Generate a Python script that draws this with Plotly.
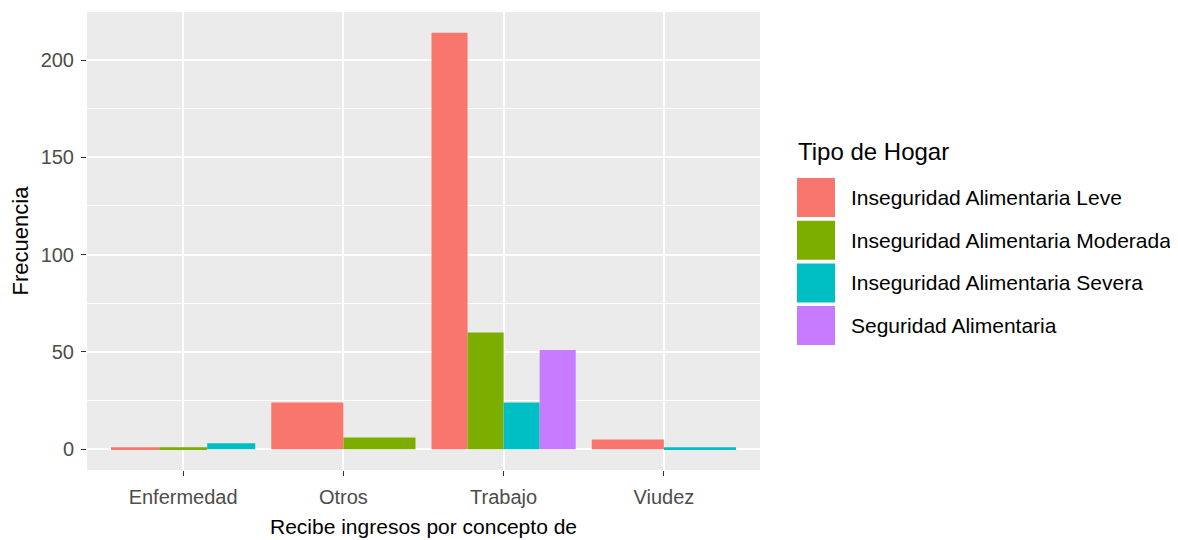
import plotly.graph_objects as go

categories = ["Enfermedad", "Otros", "Trabajo", "Viudez"]
groups = ["Inseguridad Alimentaria Leve", "Inseguridad Alimentaria Moderada",
          "Inseguridad Alimentaria Severa", "Seguridad Alimentaria"]
leve = [1, 24, 214, 5]
moderada = [1, 6, 60, None]
severa = [3, None, 24, 1]
seguridad = [None, None, 51, None]
colors = ["#F8766D", "#7CAE00", "#00BFC4", "#C77CFF"]
y_ticks = [0, 50, 100, 150, 200]

series = [leve, moderada, severa, seguridad]

FONT = "Liberation Sans, Arial, sans-serif"
OFF = 8  # page body margin
W, H = 1170, 532
L, T = 87 - OFF, 12 - OFF
PW, PH = 673, 458
R = W - L - PW
B = H - T - PH

fig = go.Figure()

# ggplot-style dodge: only present groups share the 0.9 width of each category
present = [[g for g in range(len(series)) if series[g][c] is not None] for c in range(len(categories))]
for g, vals in enumerate(series):
    xs, ys, widths, offsets = [], [], [], []
    for c, v in enumerate(vals):
        if v is None:
            continue
        n = len(present[c])
        k = present[c].index(g)
        w = 0.9 / n
        xs.append(categories[c])
        ys.append(v)
        widths.append(w)
        offsets.append(-0.45 + k * w)
    fig.add_trace(go.Bar(x=xs, y=ys, width=widths, offset=offsets, name=groups[g],
                         marker=dict(color=colors[g], line=dict(width=0)),
                         showlegend=False))

ymax = max(v for s in series for v in s if v is not None)
pad = 0.05 * ymax

fig.update_layout(
    width=W, height=H,
    margin=dict(l=L, r=R, t=T, b=B, autoexpand=False),
    paper_bgcolor="white", plot_bgcolor="#EBEBEB",
    barmode="overlay",
    font=dict(family=FONT, color="#4D4D4D"),
    xaxis=dict(
        type="category", categoryorder="array", categoryarray=categories,
        range=[-0.6, len(categories) - 0.4], automargin=False,
        showgrid=True, gridcolor="white", gridwidth=1.6,
        ticks="outside", ticklen=5, tickcolor="#333333", tickwidth=1,
        ticklabelstandoff=4,
        tickfont=dict(size=20, color="#4D4D4D", family=FONT),
        title=dict(text="Recibe ingresos por concepto de", standoff=12,
                   font=dict(size=21, color="black", family=FONT)),
        zeroline=False, showline=False,
    ),
    yaxis=dict(
        range=[-pad, ymax + pad], automargin=False,
        tickvals=y_ticks, ticktext=[str(v) for v in y_ticks],
        showgrid=True, gridcolor="white", gridwidth=1.6,
        minor=dict(dtick=25, tick0=0, showgrid=True, gridcolor="white", gridwidth=0.7, ticks=""),
        ticks="outside", ticklen=5, tickcolor="#333333", tickwidth=1,
        ticklabelstandoff=3,
        tickfont=dict(size=20, color="#4D4D4D", family=FONT),
        title=dict(text="Frecuencia", standoff=8,
                   font=dict(size=22, color="black", family=FONT)),
        zeroline=False, showline=False,
    ),
)

def px2x(px):
    return (px - OFF - L) / PW

def py2y(py):
    return (T + PH - (py - OFF)) / PH

# Legend (ggplot-style large keys)
fig.add_annotation(x=px2x(796), y=py2y(151), xref="paper", yref="paper",
                   text="Tipo de Hogar", showarrow=False, xanchor="left", yanchor="middle",
                   font=dict(size=24, color="black", family=FONT))
key_top, key_h, key_pitch = 178, 39, 42.7
for i, (name, col) in enumerate(zip(groups, colors)):
    y0 = key_top + i * key_pitch
    fig.add_shape(type="rect", xref="paper", yref="paper",
                  x0=px2x(797), x1=px2x(835), y0=py2y(y0 + key_h), y1=py2y(y0),
                  fillcolor=col, line=dict(width=0))
    fig.add_annotation(x=px2x(849), y=py2y(y0 + key_h / 2), xref="paper", yref="paper",
                       text=name, showarrow=False, xanchor="left", yanchor="middle",
                       font=dict(size=21, color="black", family=FONT))

fig.write_html("out.html")
